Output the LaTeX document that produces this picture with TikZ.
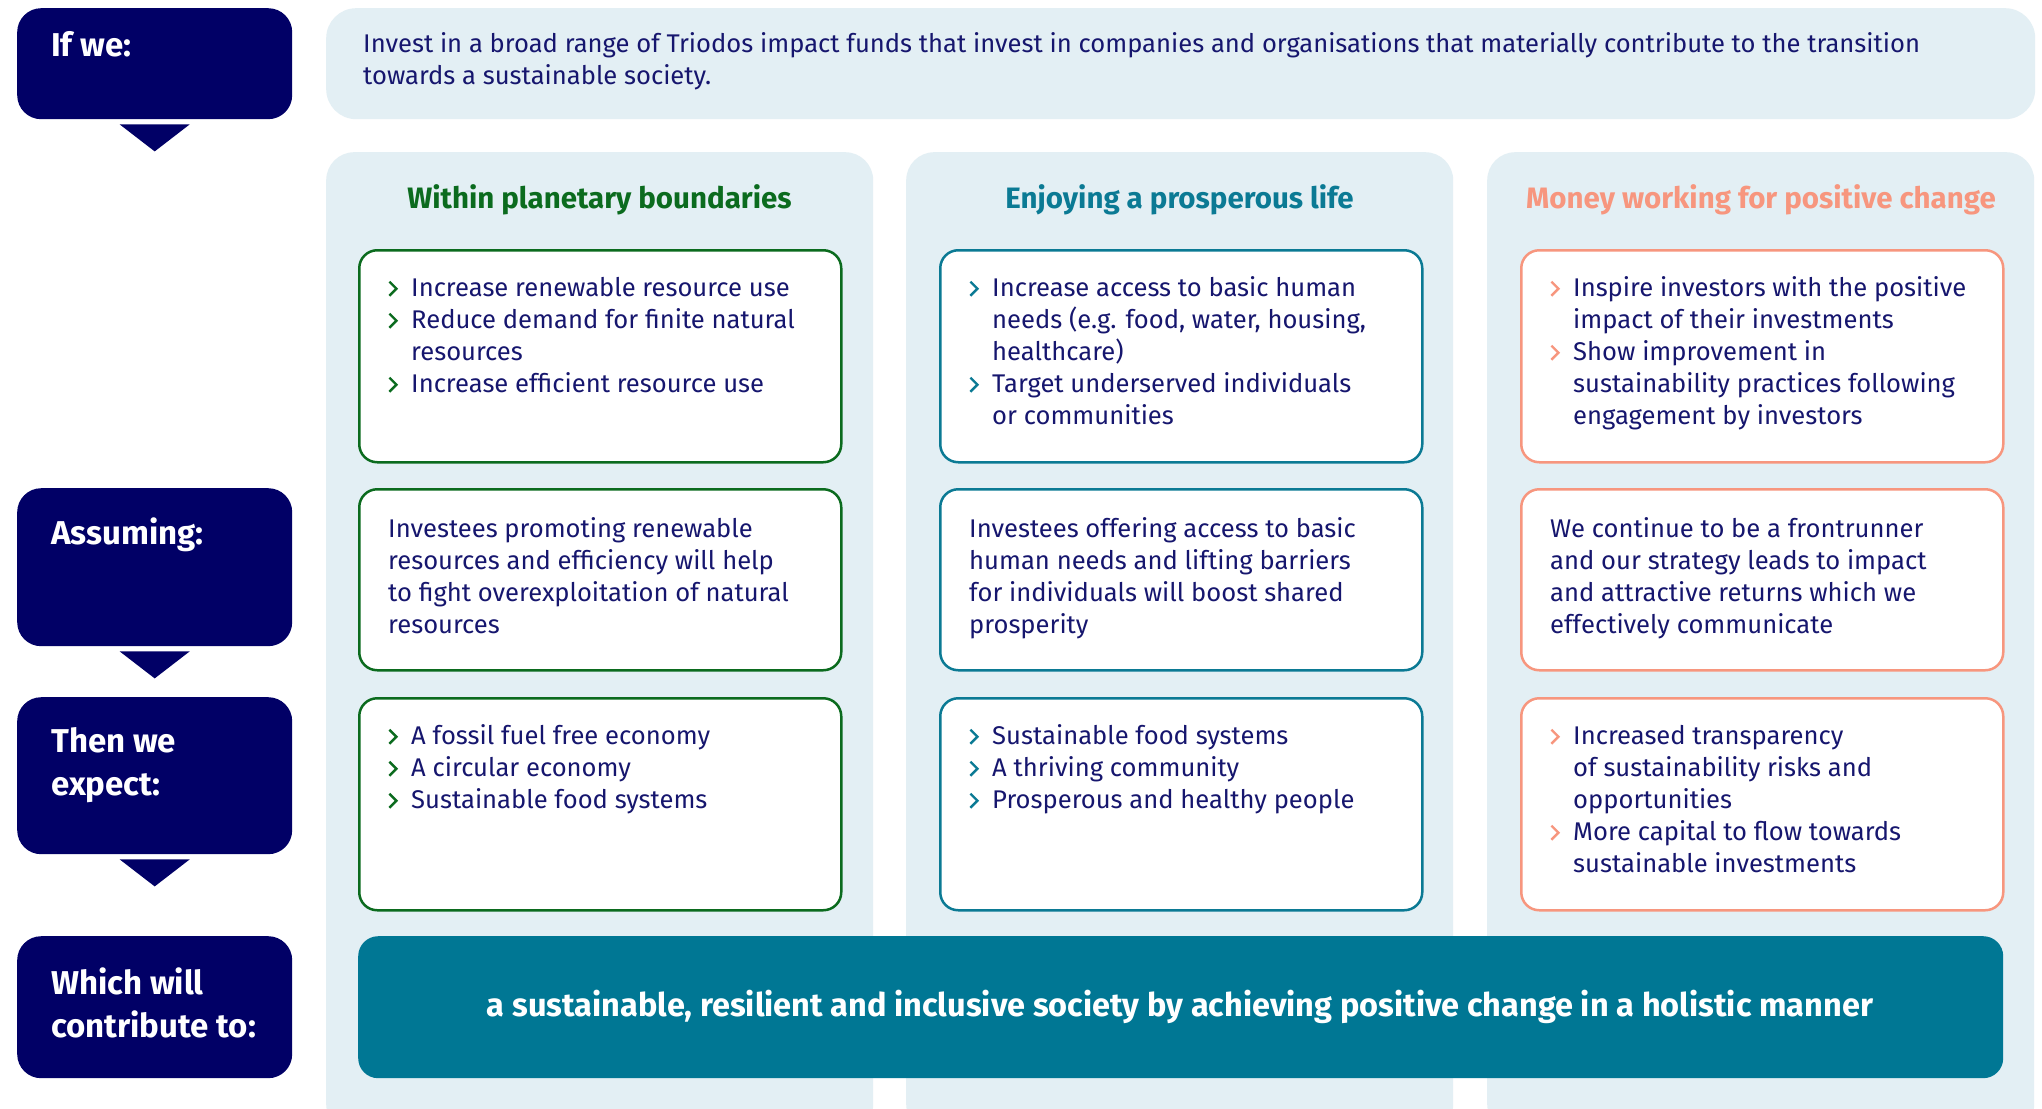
\documentclass[tikz,border=0pt]{standalone}
\usepackage{fontspec}
\setmainfont{Fira Sans}
\usetikzlibrary{calc}
\definecolor{labnavy}{HTML}{010066}
\definecolor{txtcol}{HTML}{16166E}
\definecolor{lightbg}{HTML}{E3EFF4}
\definecolor{greenc}{HTML}{0B6B1E}
\definecolor{tealc}{HTML}{0B7A94}
\definecolor{salmon}{HTML}{F7967E}
\definecolor{barteal}{HTML}{007794}
\newcommand\chev[1]{\tikz[x=1pt,y=1pt,baseline=0pt]\draw[#1,line width=2.4pt,line cap=butt,line join=miter] (0,1) -- (7,8) -- (0,15);}
\newcommand\bl[1]{\makebox[23pt][l]{\chev{#1}}}
\newcommand\ind{\hspace*{23pt}}
\newcommand\fl{\rule{0pt}{20pt}}
\newcommand\flb{\rule{0pt}{24pt}}
\begin{document}
\begin{tikzpicture}[x=1pt,y=-1pt,
  colbg/.style={fill=lightbg, rounded corners=28pt, anchor=north west, inner sep=0pt, minimum width=547pt},
  labbox/.style={fill=labnavy, rounded corners=24pt, anchor=north west, inner sep=0pt, minimum width=275pt},
  inbox/.style={draw=#1, fill=white, line width=2.5pt, rounded corners=18pt, anchor=north west, inner sep=0pt, minimum width=482pt},
  txt/.style={anchor=north west, inner sep=0pt, align=left, text=txtcol, font=\fontsize{25.6}{32}\selectfont},
  labtxt/.style={anchor=north west, inner sep=0pt, align=left, text=white, font=\bfseries\fontsize{33}{43}\selectfont},
  coltitle/.style={anchor=base, inner sep=0pt, text=#1, font=\bfseries\fontsize{29.5}{32}\selectfont},
  tri/.style={fill=labnavy}
]
\useasboundingbox (0,0) rectangle (2042,1108);
\fill[white] (0,0) rectangle (2042,1108);

% background columns
\node[colbg, minimum height=980pt] (col1) at (326,152) {};
\node[colbg, minimum height=980pt] (col2) at (906,152) {};
\node[colbg, minimum height=980pt] (col3) at (1487,152) {};

% top bar
\node[fill=lightbg, rounded corners=30pt, anchor=north west, inner sep=0pt, minimum width=1709pt, minimum height=111pt] (top) at (326,8) {};
\node[txt] (topt) at (363,32.5) {\fl Invest in a broad range of Triodos impact funds that invest in companies and organisations that materially contribute to the transition\\towards a sustainable society.};

% left labels
\node[labbox, minimum height=111pt] (ifwe) at (17,8) {};
\node[labbox, minimum height=158pt] (assume) at (17,488) {};
\node[labbox, minimum height=157pt] (expect) at (17,697) {};
\node[labbox, minimum height=142pt] (contrib) at (17,936) {};
\node[labtxt] (ifwet) at (51,31) {\flb If we:};
\node[labtxt] (assumet) at (51,518) {\flb Assuming:};
\node[labtxt] (expectt) at (51,727) {\flb Then we\\expect:};
\node[labtxt] (contribt) at (51,968) {\flb Which will\\contribute to:};
\fill[tri] ($(ifwe.south)+(-35,5)$) -- ($(ifwe.south)+(35,5)$) -- ($(ifwe.south)+(0,32)$) -- cycle;
\fill[tri] ($(assume.south)+(-35,5)$) -- ($(assume.south)+(35,5)$) -- ($(assume.south)+(0,32)$) -- cycle;
\fill[tri] ($(expect.south)+(-35,5)$) -- ($(expect.south)+(35,5)$) -- ($(expect.south)+(0,32)$) -- cycle;

% column titles
\node[coltitle=greenc] (t1) at (599.5,208) {Within planetary boundaries};
\node[coltitle=tealc] (t2) at (1179.5,208) {Enjoying a prosperous life};
\node[coltitle=salmon] (t3) at (1761,208) {Money working for positive change};

% row 1
\node[inbox=greenc, minimum height=212pt] (b11) at (358,249) {};
\node[inbox=tealc, minimum height=212pt] (b21) at (939,249) {};
\node[inbox=salmon, minimum height=212pt] (b31) at (1520,249) {};
\node[txt] (x11) at (388,276.5) {\fl\bl{greenc}Increase renewable resource use\\\bl{greenc}Reduce demand for finite natural\\\ind resources\\\bl{greenc}Increase efficient resource use};
\node[txt] (x21) at (969,276.5) {\fl\bl{tealc}Increase access to basic human\\\ind needs (e.g. food, water, housing,\\\ind healthcare)\\\bl{tealc}Target underserved individuals\\\ind or communities};
\node[txt] (x31) at (1550,276.5) {\fl\bl{salmon}Inspire investors with the positive\\\ind impact of their investments\\\bl{salmon}Show improvement in\\\ind sustainability practices following\\\ind engagement by investors};

% row 2
\node[inbox=greenc, minimum height=181pt] (b12) at (358,488) {};
\node[inbox=tealc, minimum height=181pt] (b22) at (939,488) {};
\node[inbox=salmon, minimum height=181pt] (b32) at (1520,488) {};
\node[txt] (x12) at (388,517.5) {\fl Investees promoting renewable\\resources and efficiency will help\\to fight overexploitation of natural\\resources};
\node[txt] (x22) at (969,517.5) {\fl Investees offering access to basic\\human needs and lifting barriers\\for individuals will boost shared\\prosperity};
\node[txt] (x32) at (1550,517.5) {\fl We continue to be a frontrunner\\and our strategy leads to impact\\and attractive returns which we\\effectively communicate};

% row 3
\node[inbox=greenc, minimum height=212pt] (b13) at (358,697) {};
\node[inbox=tealc, minimum height=212pt] (b23) at (939,697) {};
\node[inbox=salmon, minimum height=212pt] (b33) at (1520,697) {};
\node[txt] (x13) at (388,724.5) {\fl\bl{greenc}A fossil fuel free economy\\\bl{greenc}A circular economy\\\bl{greenc}Sustainable food systems};
\node[txt] (x23) at (969,724.5) {\fl\bl{tealc}Sustainable food systems\\\bl{tealc}A thriving community\\\bl{tealc}Prosperous and healthy people};
\node[txt] (x33) at (1550,724.5) {\fl\bl{salmon}Increased transparency\\\ind of sustainability risks and\\\ind opportunities\\\bl{salmon}More capital to flow towards\\\ind sustainable investments};

% bottom bar
\node[fill=barteal, rounded corners=20pt, anchor=north west, inner sep=0pt, minimum width=1645pt, minimum height=142pt] (bar) at (358,936) {};
\node[anchor=base, inner sep=0pt, text=white, font=\bfseries\fontsize{32.5}{36}\selectfont] (bart) at (1180,1016) {a sustainable, resilient and inclusive society by achieving positive change in a holistic manner};
\end{tikzpicture}
\end{document}
